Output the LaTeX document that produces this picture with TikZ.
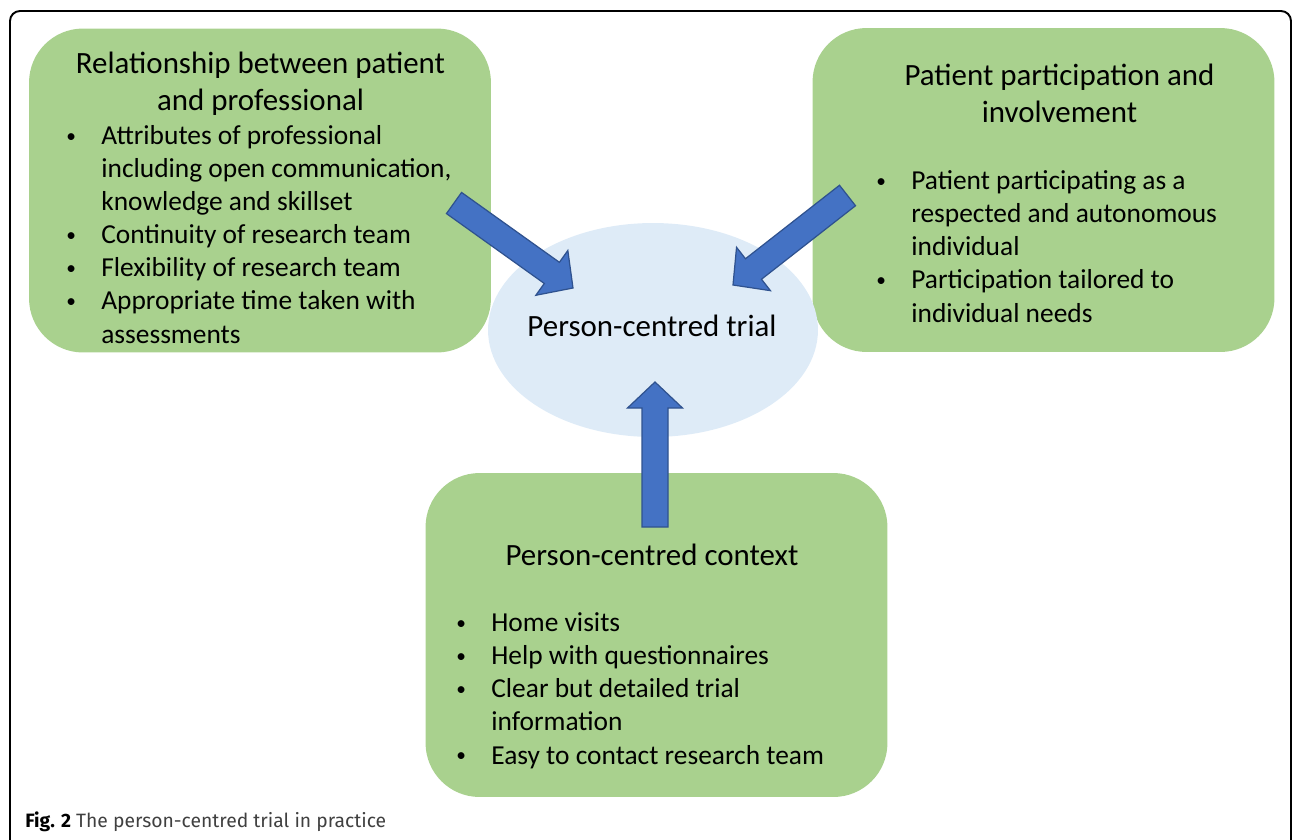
\documentclass[tikz,border=0pt]{standalone}
\usepackage{fontspec}
\setmainfont{Carlito}
\newfontfamily\capfont{Fira Sans}
\usepackage{xcolor}
\usepackage{tikz}
\usetikzlibrary{shapes.geometric}
\usetikzlibrary{calc}

\definecolor{boxgreen}{HTML}{A9D18E}
\definecolor{ovalblue}{HTML}{DEEBF7}
\definecolor{arrowfill}{HTML}{4472C4}
\definecolor{arrowline}{HTML}{2F528F}
\definecolor{capgray}{HTML}{404040}

\newcommand{\bul}{\makebox[0.74cm][l]{\hspace*{0.04cm}{\fontsize{11pt}{0pt}\selectfont\raisebox{1.6pt}{\textbullet}}}}
\newcommand{\ind}{\hspace*{0.74cm}}
% block arrow from tail #1 to tip #2
\newcommand{\blockarrow}[2]{%
  \coordinate (#1h) at ($(#2)!0.52cm!(#1)$);
  \draw[blockarr] ($(#1)!0.26cm!90:(#2)$) -- ($(#1h)!0.26cm!90:(#2)$) -- ($(#1h)!0.55cm!90:(#2)$)
    -- (#2) -- ($(#1h)!0.55cm!-90:(#2)$) -- ($(#1h)!0.26cm!-90:(#2)$) -- ($(#1)!0.26cm!-90:(#2)$) -- cycle;
}

\begin{document}
\begin{tikzpicture}[x=0.02cm,y=-0.02cm,
    greenbox/.style={rounded corners=1.08cm, fill=boxgreen, minimum width=9.24cm, minimum height=6.48cm, inner sep=0},
    boxtitle/.style={anchor=base, align=center, inner sep=0, font=\fontsize{17.6pt}{21pt}\selectfont},
    boxlist/.style={anchor=base west, align=left, inner sep=0, font=\fontsize{15.6pt}{18.8pt}\selectfont},
    blockarr/.style={fill=arrowfill, draw=arrowline, line width=0.7pt, line join=miter}]
                    \useasboundingbox (0,0) rectangle (1292,839);
                    \clip (0,0) rectangle (1292,839);
                    \draw [line width=1.1pt, rounded corners=0.2cm] (10,870) -- (10,11) -- (1291,11) -- (1291,870);

                    \node [greenbox] (lbox) at (260,190.5) {};
                    \node [greenbox] (rbox) at (1043.5,190) {};
                    \node [greenbox] (cbox) at (656.5,635) {};
                    \node [ellipse, fill=ovalblue, minimum width=6.6cm, minimum height=4.28cm, inner sep=0] (trial) at (653,330) {};
                    \node [anchor=base, inner sep=0, font=\fontsize{17.6pt}{21pt}\selectfont] (trialtxt) at (652,336) {Person-centred trial};

                    % base anchor = baseline of the last line
                    \node [boxtitle] (ltitle) at (260.5,110) {Relationship between patient\\and professional};
                    \node [boxlist] (llist) at (64,343) {\bul Attributes of professional\\\ind including open communication,\\\ind knowledge and skillset\\\bul Continuity of research team\\\bul Flexibility of research team\\\bul Appropriate time taken with\\\ind assessments};

                    \node [boxtitle] (rtitle) at (1059.5,122) {Patient participation and\\involvement};
                    \node [boxlist] (rlist) at (874,322) {\bul Patient participating as a\\\ind respected and autonomous\\\ind individual\\\bul Participation tailored to\\\ind individual needs};

                    \node [boxtitle] (ctitle) at (652,565) {Person-centred context};
                    \node [boxlist] (clist) at (454,764) {\bul Home visits\\\bul Help with questionnaires\\\bul Clear but detailed trial\\\ind information\\\bul Easy to contact research team};

                    \coordinate (ltail) at (454,203);
                    \coordinate (ltip) at (573,288);
                    \coordinate (rtail) at (847.5,195.5);
                    \coordinate (rtip) at (733,285);
                    \coordinate (ctail) at (655,527);
                    \coordinate (ctip) at (655,382);
                    \blockarrow{ltail}{ltip}
                    \blockarrow{rtail}{rtip}
                    \blockarrow{ctail}{ctip}

                    \node [anchor=base west, inner sep=0, font=\capfont\fontsize{11pt}{13pt}\selectfont] (cap) at (25,827) {\textbf{Fig. 2} \textcolor{capgray}{The person-centred trial in practice}};
                \end{tikzpicture}
\end{document}
